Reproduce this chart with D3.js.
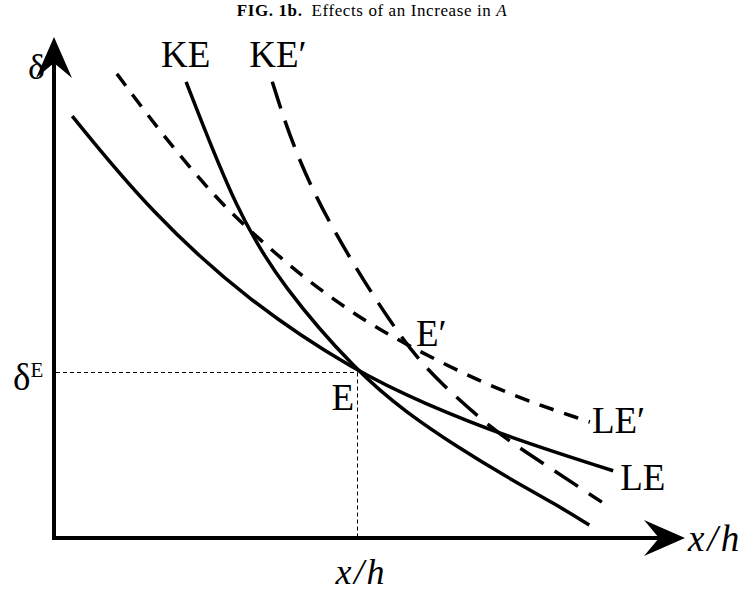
<!DOCTYPE html>
<html>
<head>
<meta charset="utf-8">
<script src="https://cdn.jsdelivr.net/npm/d3@7"></script>
<style>
  body { margin: 0; background: #fff; }
  svg text { font-family: "Liberation Serif", "DejaVu Serif", serif; fill: #000; }
</style>
</head>
<body>
<div class="diagram"></div>
<script>
// Fig. 1b - effects of an increase in A (schematic curves)

const leX = [2.9, 15.3, 31.2, 48.2, 58.7, 72.0, 88.9];
const leY = [84.7, 65.5, 47.2, 33.3, 27.1, 20.3, 13.5];

const keX = [21.0, 29.1, 36.4, 48.2, 56.1, 64.1, 72.0, 80.0, 85.1];
const keY = [91.6, 65.3, 50.4, 33.3, 25.1, 18.3, 12.2, 6.6, 2.6];

const kePrimeX = [34.7, 40.2, 55.0, 61.4, 69.8, 75.2, 87.1];
const kePrimeY = [91.6, 69.9, 39.8, 31.1, 21.7, 17.1, 7.2];

const lePrimeX = [10.0, 16.9, 25.9, 32.8, 39.6, 47.4, 55.0, 70.9, 85.2];
const lePrimeY = [93.2, 81.5, 67.9, 59.8, 52.4, 45.2, 39.4, 29.3, 23.3];

const equilibrium = { x: 48.2, y: 33.3 };
const equilibriumPrime = { x: 55.0, y: 39.6 };

const width = 745;
const height = 594;

const svg = d3.select('.diagram')
    .append('svg')
    .attr('width', width)
    .attr('height', height);

const xScale = d3.scaleLinear().domain([0, 100]).range([54, 683]);
const yScale = d3.scaleLinear().domain([0, 100]).range([538, 40]);

const zip = (xs, ys) => xs.map((x, i) => ({ x, y: ys[i] }));

const line = d3.line()
    .x(d => xScale(d.x))
    .y(d => yScale(d.y))
    .curve(d3.curveBasis);

// Title
const title = svg.append('text')
    .attr('x', 372)
    .attr('y', 16)
    .attr('text-anchor', 'middle')
    .attr('font-size', '17px')
    .attr('letter-spacing', '0.6px');
title.append('tspan').attr('font-weight', 'bold').text('FIG. 1b.');
title.append('tspan').attr('dx', 9).text('Effects of an Increase in ');
title.append('tspan').attr('font-style', 'italic').text('A');

// Guide lines to E
const xe = Math.round(xScale(equilibrium.x)) + 0.5;
const ye = Math.round(yScale(equilibrium.y)) + 0.5;

svg.append('line')
    .attr('x1', xScale(0) + 2)
    .attr('x2', xe)
    .attr('y1', ye)
    .attr('y2', ye)
    .attr('stroke', '#000')
    .attr('stroke-width', 1)
    .attr('stroke-dasharray', '4,3');

svg.append('line')
    .attr('x1', xe)
    .attr('x2', xe)
    .attr('y1', ye)
    .attr('y2', yScale(0))
    .attr('stroke', '#000')
    .attr('stroke-width', 1)
    .attr('stroke-dasharray', '4,3');

// Curves
const curves = [
    { name: 'LE', pts: zip(leX, leY), dash: null },
    { name: 'KE', pts: zip(keX, keY), dash: null },
    { name: "KE'", pts: zip(kePrimeX, kePrimeY), dash: '28,13' },
    { name: "LE'", pts: zip(lePrimeX, lePrimeY), dash: '15,11' }
];

curves.forEach(c => {
    svg.append('path')
        .attr('d', line(c.pts))
        .attr('fill', 'none')
        .attr('stroke', '#000')
        .attr('stroke-width', 3.5)
        .attr('stroke-dasharray', c.dash);
});

// Axes
const x0 = xScale(0), y0 = yScale(0);
const xTip = xScale(100) + 2, yTip = yScale(100) - 3;

svg.append('line')
    .attr('x1', x0).attr('x2', x0)
    .attr('y1', y0 + 2).attr('y2', yTip + 20)
    .attr('stroke', '#000').attr('stroke-width', 4);

svg.append('line')
    .attr('x1', x0 - 2).attr('x2', xTip - 20)
    .attr('y1', y0).attr('y2', y0)
    .attr('stroke', '#000').attr('stroke-width', 4);

svg.append('path')
    .attr('d', `M${x0},${yTip} L${x0 + 18},${yTip + 41} L${x0},${yTip + 26} L${x0 - 18},${yTip + 41} Z`)
    .attr('fill', '#000');

svg.append('path')
    .attr('d', `M${xTip},${y0} L${xTip - 41},${y0 - 18} L${xTip - 26},${y0} L${xTip - 41},${y0 + 18} Z`)
    .attr('fill', '#000');

// Axis labels
svg.append('text')
    .attr('x', 28).attr('y', 79)
    .attr('font-size', '36px')
    .text('δ');

svg.append('text')
    .attr('x', xTip + 3).attr('y', y0 + 13)
    .attr('font-size', '37px')
    .attr('font-style', 'italic')
    .attr('letter-spacing', '3px')
    .text('x/h');

svg.append('text')
    .attr('x', xScale(equilibrium.x) + 4)
    .attr('y', y0 + 46)
    .attr('text-anchor', 'middle')
    .attr('font-size', '36px')
    .attr('font-style', 'italic')
    .attr('letter-spacing', '2.5px')
    .text('x/h');

const dE = svg.append('text')
    .attr('x', 13)
    .attr('y', yScale(equilibrium.y) + 18)
    .attr('font-size', '37px');
dE.append('tspan').text('δ');
dE.append('tspan').attr('font-size', '21px').attr('dy', -13).text('E');

// Curve labels
const first = c => c.pts[0];
const last = c => c.pts[c.pts.length - 1];

const labels = [
    { text: 'KE', at: first(curves[1]), dx: -25, dy: -15 },
    { text: 'KE′', at: first(curves[2]), dx: -23, dy: -15 },
    { text: 'LE', at: last(curves[0]), dx: 7, dy: 19 },
    { text: 'LE′', at: last(curves[3]), dx: 2, dy: 11 },
    { text: 'E′', at: equilibriumPrime, dx: 16, dy: 5 }
];

labels.forEach(l => {
    svg.append('text')
        .attr('x', xScale(l.at.x) + l.dx)
        .attr('y', yScale(l.at.y) + l.dy)
        .attr('font-size', '37px')
        .text(l.text);
});

svg.append('text')
    .attr('x', xScale(equilibrium.x) - 3)
    .attr('y', yScale(equilibrium.y) + 38)
    .attr('text-anchor', 'end')
    .attr('font-size', '37px')
    .text('E');
</script>
</body>
</html>
